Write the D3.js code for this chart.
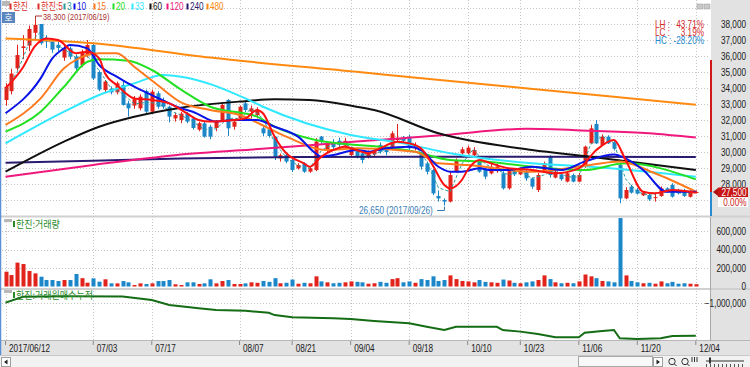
<!DOCTYPE html>
<html><head><meta charset="utf-8">
<script src="https://cdn.jsdelivr.net/npm/d3@7"></script>
<style>
html,body{margin:0;padding:0;background:#fff;overflow:hidden;}
svg{display:block;}
text{font-family:"Liberation Sans",Arial,sans-serif;}
</style></head><body>
<svg id="c" width="750" height="367"></svg>
<script>
// ---------------- DATA ----------------
const dates = ["06/12","06/13","06/14","06/15","06/16","06/19","06/20","06/21","06/22","06/23","06/26","06/27","06/28","06/29","06/30",
"07/03","07/04","07/05","07/06","07/07","07/10","07/11","07/12","07/13","07/14","07/17","07/18","07/19","07/20","07/21","07/24","07/25","07/26","07/27","07/28","07/31",
"08/01","08/02","08/03","08/04","08/07","08/08","08/09","08/10","08/11","08/14","08/16","08/17","08/18","08/21","08/22","08/23","08/24","08/25","08/28","08/29","08/30","08/31",
"09/01","09/04","09/05","09/06","09/07","09/08","09/11","09/12","09/13","09/14","09/15","09/18","09/19","09/20","09/21","09/22","09/25","09/26","09/27","09/28","09/29",
"10/10","10/11","10/12","10/13","10/16","10/17","10/18","10/19","10/20","10/23","10/24","10/25","10/26","10/27","10/30","10/31",
"11/01","11/02","11/03","11/06","11/07","11/08","11/09","11/10","11/13","11/14","11/15","11/16","11/17","11/20","11/21","11/22","11/23","11/24","11/27","11/28","11/29","11/30",
"12/01","12/04"];

const open = [33250,33800,35230,36500,36650,37450,38000,37100,36900,36700,35900,36480,35960,35440,36060,36690,35000,33875,33940,33730,
34190,33040,32900,32730,33810,32520,33670,33250,32830,32100,32000,32400,32100,31400,31790,31580,31500,32000,33250,31580,
32100,33040,32520,32310,31480,31400,30960,29600,29800,29500,28980,29290,28770,28870,30960,30130,30500,30700,30400,29810,
30125,29915,29700,29850,30440,30200,30230,30750,30850,30960,30230,29915,29290,28875,27250,27000,26900,28770,29917,29917,
29813,29396,28875,28667,28800,28667,27730,28900,28600,28770,28350,27625,28770,29710,28400,28600,28150,28560,28150,29085,
30540,31750,30440,30960,30600,29190,27100,27835,27650,27290,27310,27170,27250,27730,27940,27620,27620,27200,27500];
const high = [34300,35200,36700,37300,37900,38300,38000,37300,37000,36900,36700,36600,36100,36400,37000,36800,35100,34500,34100,34400,
34400,33200,33500,33600,33900,33900,33800,33400,32900,32450,32500,32500,32200,31900,31900,31700,32000,33100,33300,32000,
32900,33200,32900,32800,31600,31500,31000,29900,29900,29600,29300,29350,29100,30870,31000,30600,30800,30900,30900,30300,
30300,30000,30100,30200,30600,30300,31300,31750,31000,31100,30600,30000,29400,28950,27600,27100,28800,29600,30300,30400,
30300,29500,29000,29300,29250,28800,29000,28950,29050,28900,28400,28700,29400,29800,28900,28700,28800,28650,28700,30400,
31700,32000,31100,31050,30700,29250,27800,27950,27750,27550,27400,27450,27850,27800,28050,27700,27700,27600,27600];
const low = [32900,33600,35100,35800,36300,37000,36700,36500,36200,36300,35700,35800,35000,35300,35900,34500,33800,33700,33600,33600,
32900,32210,32700,32600,32400,32400,32700,32700,31850,31900,31800,31800,31400,31300,30900,30800,31300,31900,31000,31400,
32000,32500,32100,32100,31000,30900,29500,29400,29300,28750,28900,28700,28700,28800,30500,30000,30200,30300,30300,29700,
29600,29300,29600,29750,29900,29800,30100,30600,30500,30100,30100,28900,28600,27300,26900,26650,26850,28700,29850,29850,
29700,28700,28300,28600,28700,27650,27650,28500,28550,28200,27700,27500,28700,28400,28350,28200,28100,28100,28100,29000,
30500,30500,30400,30500,30100,26800,27050,27400,27350,27250,26950,26900,27200,27450,27150,27350,27200,27150,27400];
const close = [34080,34900,36060,36600,37690,37950,36800,36900,36400,36500,36500,35960,35230,36270,36690,34600,33900,34400,33730,34290,
32940,32730,33300,33460,32520,33770,32830,32830,32210,32310,32400,31900,31500,31800,30960,30960,31900,32940,31480,31900,
32830,32625,32730,32625,31170,31000,29710,29800,29400,28875,29190,28770,28980,30650,30650,30540,30300,30450,30700,30230,
29710,29500,29950,30050,30020,29990,31165,30850,30700,30230,30450,29085,28770,27415,27100,26900,28560,29500,30167,30271,
30125,28770,28459,29084,29100,27730,28875,28600,28900,28350,27835,28560,29290,28560,28770,28300,28670,28150,28560,30335,
31480,30540,30960,30540,30200,27100,27625,27460,27400,27460,27040,27180,27730,27520,27210,27420,27250,27500,27500];

const volume = [160000,124000,258000,243000,168000,142000,106000,70000,70000,59000,70000,70000,135000,90000,41000,88000,52000,78000,34000,34000,
59000,45000,16000,34000,27000,34000,59000,59000,70000,24000,16000,45000,45000,27000,34000,78000,34000,59000,70000,27000,
27000,34000,45000,40000,60000,50000,90000,35000,40000,75000,30000,40000,35000,110000,55000,45000,35000,40000,45000,55000,
50000,45000,30000,35000,50000,40000,80000,90000,45000,55000,40000,80000,70000,110000,60000,70000,120000,80000,60000,55000,
45000,70000,50000,45000,40000,75000,65000,40000,35000,45000,55000,70000,120000,80000,45000,35000,40000,35000,55000,130000,
110000,90000,60000,55000,45000,740000,120000,60000,45000,35000,40000,30000,55000,35000,50000,30000,35000,30000,25000];

// moving averages: [candle index, value]
const ma3 = [[0,33900],[2,35000],[4,36800],[6,37500],[8,36700],[10,36450],[12,35900],[14,36000],[16,35100],[18,34000],[20,33650],[22,33000],[24,33100],[26,33050],[28,32600],[30,32300],[32,31900],[34,31400],[36,31450],[38,32100],[40,32100],[42,32700],[44,32100],[46,30600],[48,29650],[50,29150],[52,28980],[54,30100],[56,30500],[58,30480],[60,30200],[62,29720],[64,29990],[66,30400],[68,30900],[70,30460],[72,29400],[74,27760],[76,27520],[78,29250],[80,30200],[82,29250],[84,28880],[86,28570],[88,28790],[90,28360],[92,28560],[94,28870],[96,28450],[98,28430],[100,30470],[102,30990],[104,30570],[106,28310],[108,27500],[110,27300],[112,27450],[114,27560],[116,27390],[118,27500]];
const ma5 = [[0,33980],[3,35300],[5,36600],[7,37100],[9,37000],[12,36170],[14,36270],[16,35850],[17,34920],[19,34190],[22,33350],[25,33250],[28,33040],[31,32420],[33,32000],[35,31900],[39,32000],[41,32100],[43,32625],[44,32420],[46,30960],[48,29920],[51,29290],[52,29080],[54,29710],[56,30125],[58,30330],[60,30125],[62,29920],[64,30230],[67,30645],[69,30540],[71,30230],[73,29190],[75,27940],[76,27730],[78,28250],[79,28875],[81,29500],[83,29290],[86,28980],[90,28875],[94,28670],[98,28980],[101,30125],[104,30750],[106,29500],[109,27520],[111,27420],[114,27625],[118,27460]];
const ma10 = [[0,32420],[6,34600],[8,35850],[10,36480],[11,36690],[14,36480],[16,35440],[19,34710],[22,34080],[25,33560],[30,32730],[32,32520],[36,31900],[39,32000],[43,32000],[46,31580],[50,30960],[53,29920],[54,29710],[56,29810],[60,30125],[62,30020],[65,30230],[69,30330],[71,30125],[74,29080],[76,28770],[78,28770],[81,28980],[83,28875],[86,28875],[90,29080],[95,28875],[99,29400],[104,29850],[106,29600],[109,28875],[113,27520],[118,27520]];
const ma15 = [[0,31690],[6,33350],[10,35230],[12,35750],[16,36170],[19,36170],[22,35330],[26,34190],[30,33100],[35,32625],[40,32310],[45,31480],[48,30960],[55,30125],[60,30230],[70,30020],[74,29290],[79,29190],[90,28770],[100,29190],[105,29400],[111,28670],[118,27520]];
const ma20 = [[0,31270],[6,32520],[10,34080],[14,35640],[16,35790],[21,35710],[25,35125],[30,33900],[35,32830],[43,32210],[46,31580],[53,30750],[60,30440],[64,30330],[70,30020],[76,29500],[82,29400],[90,29080],[99,28875],[106,29290],[118,28290]];
const ma33 = [[0,30540],[10,32520],[16,33560],[22,34290],[27,34810],[30,34710],[41,33350],[44,32830],[59,31060],[68,30540],[76,29920],[90,29290],[100,29080],[118,28460]];
const ma60 = [[0,28770],[10,30650],[16,31580],[22,32200],[30,32770],[40,33150],[46,33290],[52,33250],[60,32830],[63,32625],[74,31170],[90,30125],[100,29710],[118,28875]];
const ma120 = [[0,28460],[15,29190],[29,29800],[45,30230],[60,30650],[75,31060],[89,31450],[100,31330],[110,31170],[118,30900]];
const ma240 = [[0,29330],[15,29450],[30,29600],[50,29680],[70,29700],[90,29700],[118,29680]];
const ma480 = [[0,37100],[15,36800],[35,35900],[60,35010],[80,34300],[100,33600],[118,32960]];

const maNames = ["3","10","15","20","33","60","120","240","480"];
const maColors = ["#2c9c9c","#0a14e6","#ff7a1e","#22e022","#30e8ff","#111111","#f0187c","#2a1a70","#ff8a10"];

const accum = [[0,-980000],[3,-650000],[10,-620000],[20,-640000],[25,-830000],[28,-1110000],[33,-1290000],[36,-1390000],[41,-1430000],[45,-1540000],[46,-1670000],[49,-1790000],[56,-1850000],[59,-1890000],[63,-2000000],[69,-2130000],[72,-2320000],[75,-2500000],[77,-2320000],[84,-2320000],[85,-2500000],[88,-2590000],[91,-2720000],[94,-2900000],[98,-2900000],[99,-2650000],[102,-2560000],[104,-2500000],[105,-2960000],[108,-3000000],[112,-2960000],[114,-2830000],[118,-2820000]];

const tickDates = ["06/12","07/03","07/17","08/07","08/21","09/04","09/18","10/10","10/23","11/06","11/20","12/04"];
const tickLabels = ["2017/06/12","07/03","07/17","08/07","08/21","09/04","09/18","10/10","10/23","11/06","11/20","12/04"];
const priceTicks = [28000,29000,30000,31000,32000,33000,34000,35000,36000,37000,38000];
const priceGrid = [27000,28000,29000,30000,31000,32000,33000,34000,35000,36000,37000,38000,39000];
const volTicks = [0,200000,400000,600000];
const accTicks = [-1000000];
const stats = [["LH :","43.71%"],["LC :","3.19%"],["HC :","-28.20%"]];
const lastPrice = 27500, lastChange = "0.00%";
const highMark = {idx:5, value:38300, label:"38,300 (2017/06/19)"};
const lowMark = {idx:75, value:26650, label:"26,650 (2017/09/26)"};

// ---------------- CHART ----------------
const svg = d3.select('#c');
const UP = "#e2231c", DN = "#1b87c9";
const x = d3.scaleBand().domain(dates).range([2.6, 698.75]).paddingInner(0.3).paddingOuter(0.15);
const bw = x.bandwidth();
const cx = i => x(dates[i]) + bw/2;
const y = d3.scaleLinear().domain([26000,38000]).range([216,24]);
const yv = d3.scaleLinear().domain([0,600000]).range([286.5,231]);
const ya = d3.scaleLinear().domain([-3000000,-1000000]).range([339,303]);

svg.append('rect').attr('width',750).attr('height',367).attr('fill','#fff');
svg.append('rect').attr('x',711).attr('y',0).attr('width',39).attr('height',341).attr('fill','#e2e2e2');
svg.append('rect').attr('x',1).attr('y',340.5).attr('width',749).attr('height',15).attr('fill','#e2e2e2');
svg.append('line').attr('x1',1).attr('x2',750).attr('y1',340.5).attr('y2',340.5).attr('stroke','#b8b8b8');
[216,288.5].forEach(v=>{
  svg.append('rect').attr('x',1).attr('y',v-0.5).attr('width',749).attr('height',2).attr('fill','#d0d0d0');
});
svg.append('line').attr('x1',710.5).attr('x2',710.5).attr('y1',217).attr('y2',341).attr('stroke','#a8a8a8');

const defs = svg.append('defs');
defs.append('clipPath').attr('id','cm').append('rect').attr('x',2).attr('y',0).attr('width',708).attr('height',215.5);
defs.append('clipPath').attr('id','cv').append('rect').attr('x',2).attr('y',217.5).attr('width',708).attr('height',70.5);
defs.append('clipPath').attr('id','ca').append('rect').attr('x',2).attr('y',290).attr('width',708).attr('height',50);

const grid = svg.append('g').attr('stroke','#c4c4c4').attr('stroke-dasharray','1,2').attr('stroke-width',1);
grid.selectAll('.hg').data(priceGrid).join('line').attr('x1',2).attr('x2',710).attr('y1',d=>Math.round(y(d))+0.5).attr('y2',d=>Math.round(y(d))+0.5).attr('clip-path','url(#cm)');
grid.selectAll('.vg').data(volTicks.slice(1)).join('line').attr('x1',2).attr('x2',710).attr('y1',d=>Math.round(yv(d))+0.5).attr('y2',d=>Math.round(yv(d))+0.5);
grid.selectAll('.ag').data(accTicks).join('line').attr('x1',2).attr('x2',710).attr('y1',d=>Math.round(ya(d))+0.5).attr('y2',d=>Math.round(ya(d))+0.5);
grid.selectAll('.xg').data(tickDates).join('line').attr('x1',d=>Math.round(x(d)+bw/2)+0.5).attr('x2',d=>Math.round(x(d)+bw/2)+0.5).attr('y1',0).attr('y2',340);

// candles
const idx = d3.range(dates.length);
const gc = svg.append('g').attr('clip-path','url(#cm)');
gc.selectAll('line.w').data(idx).join('line').attr('class','w')
  .attr('x1',i=>Math.round(cx(i))+0.5).attr('x2',i=>Math.round(cx(i))+0.5)
  .attr('y1',i=>y(high[i])).attr('y2',i=>y(low[i]))
  .attr('stroke',i=>close[i]>=open[i]?UP:DN).attr('stroke-width',1);
gc.selectAll('rect.b').data(idx).join('rect').attr('class','b')
  .attr('x',i=>Math.round(cx(i))-1.5).attr('width',4)
  .attr('y',i=>y(Math.max(open[i],close[i])))
  .attr('height',i=>Math.max(1,Math.abs(y(open[i])-y(close[i]))))
  .attr('fill',i=>close[i]>=open[i]?UP:DN);

// moving averages
const mas = [ma480,ma240,ma120,ma60,ma33,ma20,ma15,ma10,ma5];
const maCols = ["#ff8a10","#2a1a70","#f0187c","#111111","#30e8ff","#22e022","#ff7a1e","#0a14e6","#ff1010"];
const line = d3.line().x(d=>cx(d[0])).y(d=>y(d[1])).curve(d3.curveMonotoneX);
const gm = svg.append('g').attr('clip-path','url(#cm)').attr('fill','none');
gm.append('path').datum(ma3).attr('d',d3.line().x(d=>cx(d[0])).y(d=>y(d[1]))).attr('stroke','#2c9c9c').attr('stroke-width',1).attr('stroke-dasharray','3,2');
mas.forEach((m,k)=>{
  gm.append('path').datum(m).attr('d',line).attr('stroke',maCols[k]).attr('stroke-width',2).attr('stroke-linejoin','round');
});

// volume
const gv = svg.append('g').attr('clip-path','url(#cv)');
gv.selectAll('rect').data(idx).join('rect')
  .attr('x',i=>Math.round(cx(i))-1.5).attr('width',4)
  .attr('y',i=>yv(volume[i])).attr('height',i=>yv(0)-yv(volume[i]))
  .attr('fill',i=>close[i]>=open[i]?UP:DN);

// accumulation line
svg.append('g').attr('clip-path','url(#ca)').append('path').datum(accum)
  .attr('d',d3.line().x(d=>cx(d[0])).y(d=>ya(d[1]))).attr('fill','none').attr('stroke','#146c14').attr('stroke-width',2);

// axes
function styleAxis(g){
  g.select('.domain').remove();
  g.attr('font-family','Liberation Sans').attr('font-size',10);
  g.selectAll('text').attr('transform','scale(0.82,1)').attr('fill','#202020');
}
const fmt = d3.format(',');
svg.append('g').attr('transform','translate(746,0)')
  .call(d3.axisLeft(y).tickValues(priceTicks).tickSize(0).tickPadding(0).tickFormat(fmt)).call(styleAxis);
svg.append('g').attr('transform','translate(746,0)')
  .call(d3.axisLeft(yv).tickValues(volTicks).tickSize(0).tickPadding(0).tickFormat(fmt)).call(styleAxis);
svg.append('g').attr('transform','translate(746,0)')
  .call(d3.axisLeft(ya).tickValues(accTicks).tickSize(0).tickPadding(0).tickFormat(fmt)).call(styleAxis);
const gx = svg.append('g').attr('transform','translate(0,341)')
  .call(d3.axisBottom(x).tickValues(tickDates).tickSize(4).tickFormat((d,i)=>tickLabels[i]));
gx.select('.domain').remove();
gx.attr('font-family','Liberation Sans').attr('font-size',10);
gx.selectAll('line').attr('stroke','#8a8a8a');
gx.selectAll('text').attr('text-anchor','start').attr('y',11.5).attr('dy',0).attr('x',0)
  .attr('transform','translate(3.5,0) scale(0.82,1)').attr('fill','#202020');

// narrow text helper
function nt(sel, tx, ty, s, fill, anchor, size){
  return sel.append('text').attr('transform',`translate(${tx},${ty}) scale(0.82,1)`)
    .attr('text-anchor',anchor).attr('dy','0.35em').attr('fill',fill).style('font-size',(size||10)+'px').text(s);
}

// range bar on the axis edge
svg.append('rect').attr('x',710).attr('y',60).attr('width',2).attr('height',y(lastPrice)-60).attr('fill','#d01818');
svg.append('rect').attr('x',710).attr('y',y(lastPrice)).attr('width',2).attr('height',216-y(lastPrice)).attr('fill','#2a8ad0');
const yl = y(lastPrice);
svg.append('path').attr('d',`M713,${yl} L718,${yl-4} L718,${yl+4} Z`).attr('fill','#b01010');
svg.append('rect').attr('x',718).attr('y',yl-4.5).attr('width',30).attr('height',9.5).attr('fill','#c81414');
nt(svg,746.5,yl,fmt(lastPrice),'#ffffff','end');
svg.append('rect').attr('x',718).attr('y',yl+5.5).attr('width',30).attr('height',9.5).attr('fill','#ffffff');
nt(svg,746.5,yl+10.3,lastChange,'#d01818','end');

// stats
stats.forEach((s,k)=>{
  const col = k<2 ? '#d42a2a' : '#2388cc';
  nt(svg,655,24+k*8,s[0],col,'start');
  nt(svg,704,24+k*8,s[1],col,'end');
});

// high / low markers
const hx = Math.round(cx(highMark.idx))+0.5, hy = y(highMark.value);
svg.append('path').attr('d',`M${hx},${hy} V16 H42`).attr('fill','none').attr('stroke','#a83030');
nt(svg,43,16.5,highMark.label,'#a83030','start',9);
const lx = Math.round(cx(lowMark.idx))+0.5, ly = y(lowMark.value);
svg.append('path').attr('d',`M437,210.5 H${lx} V${ly+1}`).attr('fill','none').attr('stroke','#3a7db4');
nt(svg,359,210,lowMark.label,'#3a7db4','start');

// legend
svg.append('rect').attr('x',2).attr('y',1).attr('width',8).attr('height',5).attr('fill','#b8b8b8');
const legItems = [["한진","#e0302a"],["한진:5","#e0302a"]].concat(maNames.map((n,k)=>[n,maColors[k]]));
const legX = [13,41,67,77,97,116,135,153,170,190,210];
legItems.forEach((it,k)=>{
  svg.append('rect').attr('x',legX[k]-3.5).attr('y',3.5).attr('width',2).attr('height',6).attr('fill',it[1]);
  svg.append('text').attr('transform',`translate(${legX[k]},10) scale(0.82,1)`).attr('fill',it[1])
    .style('font-size','10px').style('font-family','"Liberation Sans","Noto Sans CJK KR",sans-serif').text(it[0]);
});
svg.append('rect').attr('x',2).attr('y',12).attr('width',13).attr('height',11).attr('fill','#5b86bd');
svg.append('text').attr('x',8.5).attr('y',21).attr('text-anchor','middle').attr('fill','#fff').style('font-size','9px').style('font-family','Noto Sans CJK KR').text('호');
[697,704].forEach(bx=>svg.append('rect').attr('x',bx).attr('y',4).attr('width',6).attr('height',5).attr('fill','#c8c8c8').attr('stroke','#9a9a9a').attr('stroke-width',0.5));

// panel legends
[[219,"한진:거래량"],[290,"한진:거래원매수누적"]].forEach(p=>{
  svg.append('rect').attr('x',4).attr('y',p[0]).attr('width',8).attr('height',3).attr('fill','#b8b8b8');
  svg.append('rect').attr('x',13).attr('y',p[0]+2).attr('width',2).attr('height',6).attr('fill','#2a8a2a');
  svg.append('text').attr('transform',`translate(16,${p[0]+8.5}) scale(0.9,1)`).attr('fill','#2a8a2a').style('font-size','10px').style('font-family','"Noto Sans CJK KR",sans-serif').text(p[1]);
});

svg.append('line').attr('x1',0.5).attr('x2',0.5).attr('y1',0).attr('y2',355).attr('stroke','#5d8fd8').attr('stroke-width',1.5);

// scrollbar row
svg.append('rect').attr('x',0).attr('y',355.5).attr('width',750).attr('height',12).attr('fill','#f2f2f2');
svg.append('line').attr('x1',0).attr('x2',750).attr('y1',355.5).attr('y2',355.5).attr('stroke','#c8c8c8');
svg.append('rect').attr('x',1.5).attr('y',357.5).attr('width',9).attr('height',9).attr('fill','#fff').attr('stroke','#a0a0a0');
svg.append('path').attr('d','M4,362 L7.5,359.5 L7.5,364.5 Z').attr('fill','#222');
svg.append('rect').attr('x',578.5).attr('y',356.5).attr('width',74).attr('height',10).attr('fill','#f8f8f8').attr('stroke','#a8a8a8');
svg.append('rect').attr('x',653.5).attr('y',357.5).attr('width',9).attr('height',9).attr('fill','#fff').attr('stroke','#a0a0a0');
svg.append('path').attr('d','M656.5,359.5 L660,362 L656.5,364.5 Z').attr('fill','#222');
[672,685].forEach(zx=>{
  svg.append('circle').attr('cx',zx).attr('cy',361.5).attr('r',3.2).attr('fill','none').attr('stroke','#333');
  svg.append('line').attr('x1',zx+2.3).attr('y1',363.8).attr('x2',zx+4.5).attr('y2',366).attr('stroke','#333');
});
[692,694.5,697].forEach(zx=>svg.append('line').attr('x1',zx).attr('x2',zx).attr('y1',357).attr('y2',362).attr('stroke','#333'));
svg.append('line').attr('x1',706).attr('x2',744).attr('y1',361).attr('y2',361).attr('stroke','#333');
svg.append('rect').attr('x',709).attr('y',357.5).attr('width',2).attr('height',6).attr('fill','#333');
d3.range(706,746,4).forEach(zx=>svg.append('line').attr('x1',zx+0.5).attr('x2',zx+0.5).attr('y1',364).attr('y2',367).attr('stroke','#555'));
</script>
</body></html>
